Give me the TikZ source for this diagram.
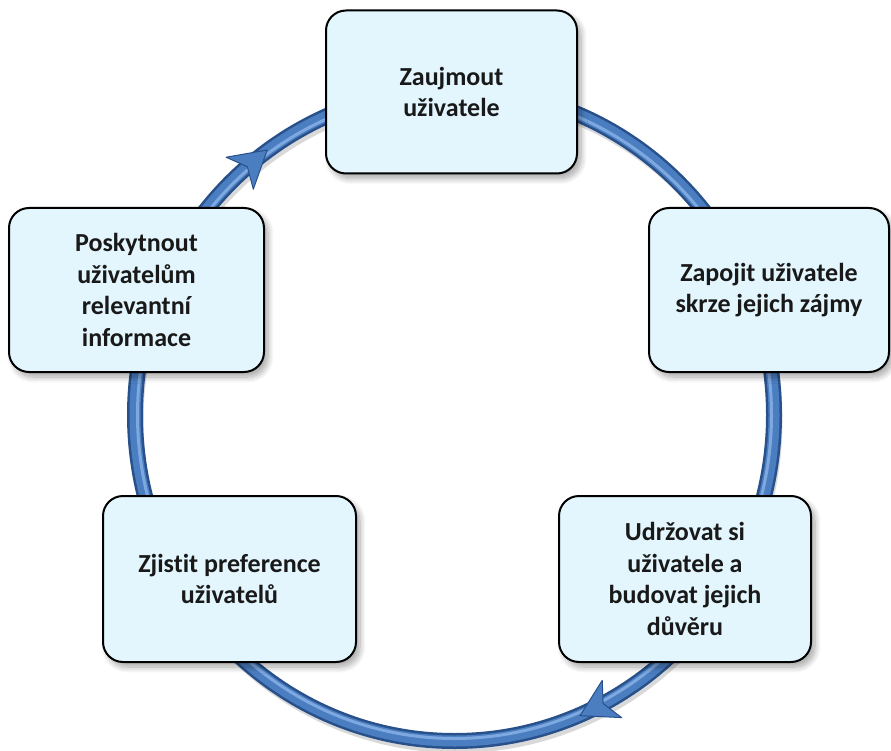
\documentclass[tikz,border=0pt]{standalone}
\usepackage{fontspec}
\setmainfont{Carlito}[Ligatures=NoCommon]
\usetikzlibrary{shadows.blur}
\definecolor{boxfill}{RGB}{227,246,253}
\definecolor{ringdark}{RGB}{40,80,138}
\definecolor{ringmid}{RGB}{74,126,192}
\definecolor{ringlight}{RGB}{125,168,224}
\begin{document}
\begin{tikzpicture}[x=1pt,y=-1pt,
  stagebox/.style={draw=black, line width=2pt, fill=boxfill, rounded corners=20pt,
    align=center, font=\fontsize{26}{31.5}\selectfont\bfseries, text=black!90, inner sep=0pt,
    blur shadow={shadow xshift=4pt, shadow yshift=-5pt, shadow blur steps=10, shadow opacity=35, shadow blur radius=6pt}},
  ringshadow/.style={draw=black, opacity=0.15, line width=12pt},
  ringouter/.style={draw=ringdark, line width=16pt},
  ringinner/.style={draw=ringmid, line width=11pt},
  ringhigh/.style={draw=ringlight, line width=3pt},
  headstyle/.style={fill=ringmid, draw=ringdark, line width=1pt, line join=round}
]
\useasboundingbox (0,0) rectangle (891,751);
% ring
\coordinate (c) at (454.5,415);
\draw[ringshadow] (457,421) ellipse [x radius=319.5, y radius=326];
\draw[ringouter] (c) ellipse [x radius=319.5, y radius=326];
\draw[ringinner] (c) ellipse [x radius=319.5, y radius=326];
\draw[ringhigh] (c) ellipse [x radius=317, y radius=323.5];
% arrowheads (clockwise)
\coordinate (h1) at ({454.5+319.5*cos(129.7)},{415-326*sin(129.7)});
\coordinate (h2) at ({454.5+319.5*cos(-63)},{415-326*sin(-63)});
\fill[headstyle, shift={(h1)}, rotate=40.3]
  (22pt,0pt) -- (-14pt,21pt) -- (-4pt,0pt) -- (-14pt,-21pt) -- cycle;
\fill[headstyle, shift={(h2)}, rotate=207.6]
  (22pt,0pt) -- (-14pt,21pt) -- (-4pt,0pt) -- (-14pt,-21pt) -- cycle;
% stages
\node[stagebox, minimum width=251pt, minimum height=163pt] (b1) at (451.5,92) {Zaujmout\\uživatele};
\node[stagebox, minimum width=240pt, minimum height=164pt] (b2) at (769,290) {Zapojit uživatele\\skrze jejich zájmy};
\node[stagebox, minimum width=252pt, minimum height=166pt] (b3) at (685,579) {Udržovat si\\uživatele a\\budovat jejich\\důvěru};
\node[stagebox, minimum width=253pt, minimum height=166pt] (b4) at (229.5,579) {Zjistit preference\\uživatelů};
\node[stagebox, minimum width=255pt, minimum height=164pt] (b5) at (136.5,290) {Poskytnout\\uživatelům\\relevantní\\informace};
\end{tikzpicture}
\end{document}
